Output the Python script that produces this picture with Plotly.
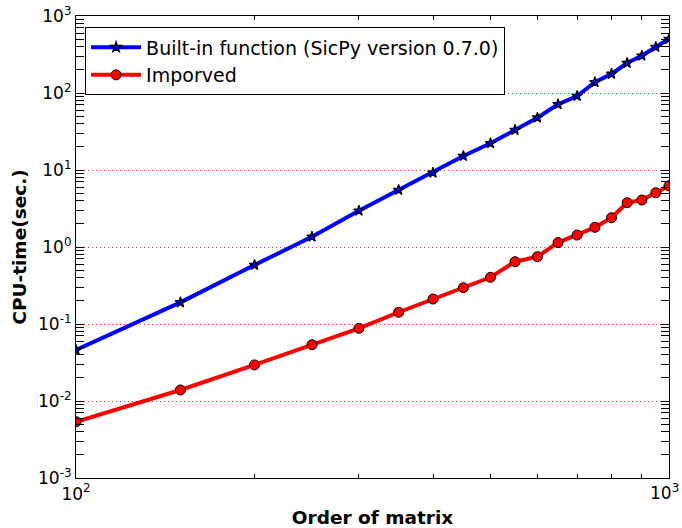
import plotly.graph_objects as go

# Matrix orders and measured CPU times (seconds)
orders = [100, 150, 200, 250, 300, 350, 400, 450, 500, 550,
          600, 650, 700, 750, 800, 850, 900, 950, 1000]
builtin_times = [0.0459, 0.191, 0.583, 1.36, 2.96, 5.50, 9.23, 15.2, 22.2, 33.1,
                 47.8, 71.3, 91.5, 138, 177, 245, 305, 396, 503]
improved_times = [0.00538, 0.0139, 0.0294, 0.0538, 0.0879, 0.142, 0.211, 0.296, 0.404, 0.644,
                  0.748, 1.14, 1.43, 1.80, 2.40, 3.76, 4.08, 5.07, 6.25]

series_names = ["Built-in function (SicPy version 0.7.0)", "Imporved"]

x_tick_vals = [100, 1000]
x_tick_text = ["10<sup>2</sup>", "10<sup>3</sup>"]
x_minor_vals = [200, 300, 400, 500, 600, 700, 800, 900]
y_tick_vals = [1e-3, 1e-2, 1e-1, 1e0, 1e1, 1e2, 1e3]
y_tick_text = ["10<sup>-3</sup>", "10<sup>-2</sup>", "10<sup>-1</sup>", "10<sup>0</sup>",
               "10<sup>1</sup>", "10<sup>2</sup>", "10<sup>3</sup>"]

FONT = "DejaVu Sans"
TICK_SIZE = 17

fig = go.Figure()
fig.add_trace(go.Scatter(
    x=orders, y=builtin_times, name=series_names[0], mode="lines+markers",
    line=dict(color="#0000ff", width=4),
    marker=dict(symbol="star", size=8, color="#0000ff",
                line=dict(color="black", width=1.2)),
))
fig.add_trace(go.Scatter(
    x=orders, y=improved_times, name=series_names[1], mode="lines+markers",
    line=dict(color="#ff0000", width=4),
    marker=dict(symbol="circle", size=10, color="#ff0000",
                line=dict(color="black", width=1)),
))

axis_common = dict(
    type="log", showline=True, linecolor="black", linewidth=1.2, mirror="allticks",
    ticks="inside", ticklen=8, tickwidth=1, tickcolor="black",
    tickfont=dict(family=FONT, size=TICK_SIZE, color="black"),
    zeroline=False, automargin=False,
)

# bottom x axis: left decade label via the axis, right one as an annotation at the page edge
fig.update_xaxes(
    **axis_common,
    range=[2, 3], tickvals=x_tick_vals[:1], ticktext=x_tick_text[:1], showgrid=False,
    minor=dict(ticks="inside", ticklen=4, tickcolor="black",
               tickvals=x_minor_vals, showgrid=False),
    title=dict(text="<b>Order of matrix</b>", font=dict(family=FONT, size=18.5, color="black"),
               standoff=14),
)
fig.add_annotation(
    x=3, y=0, xref="x", yref="paper", yanchor="top", xanchor="right", xshift=12, yshift=-1,
    text=x_tick_text[1], showarrow=False,
    font=dict(family=FONT, size=TICK_SIZE, color="black"),
)

# top x axis carrying the mirrored tick marks
fig.update_layout(xaxis2=dict(
    overlaying="x", side="top", type="log", range=[2, 3],
    tickvals=x_tick_vals, showticklabels=False, showgrid=False, zeroline=False,
    ticks="inside", ticklen=8, tickcolor="black", showline=False, automargin=False,
    minor=dict(ticks="inside", ticklen=4, tickcolor="black",
               tickvals=x_minor_vals, showgrid=False),
))
fig.add_trace(go.Scatter(x=[100, 1000], y=[1e-3, 1e-3], xaxis="x2", mode="none",
                         showlegend=False, hoverinfo="skip"))

fig.update_yaxes(
    **axis_common,
    range=[-3, 3], tickvals=y_tick_vals, ticktext=y_tick_text,
    showgrid=True, gridcolor="#ff3030", griddash="1px,3px", gridwidth=1,
    minor=dict(ticks="inside", ticklen=4, tickcolor="black", dtick="D1", showgrid=False),
    title=dict(text="<b>CPU-time(sec.)</b>", font=dict(family=FONT, size=18.5, color="black"),
               standoff=6),
)

fig.update_layout(
    width=682, height=528,
    margin=dict(l=76, r=13, t=16, b=50),
    paper_bgcolor="white", plot_bgcolor="white",
    font=dict(family=FONT, color="black"),
    legend=dict(
        x=0.015, y=0.976, xanchor="left", yanchor="top",
        bgcolor="white", bordercolor="black", borderwidth=1.2,
        font=dict(family=FONT, size=19, color="black"),
        itemwidth=50,
    ),
)

fig.write_html("out.html")
